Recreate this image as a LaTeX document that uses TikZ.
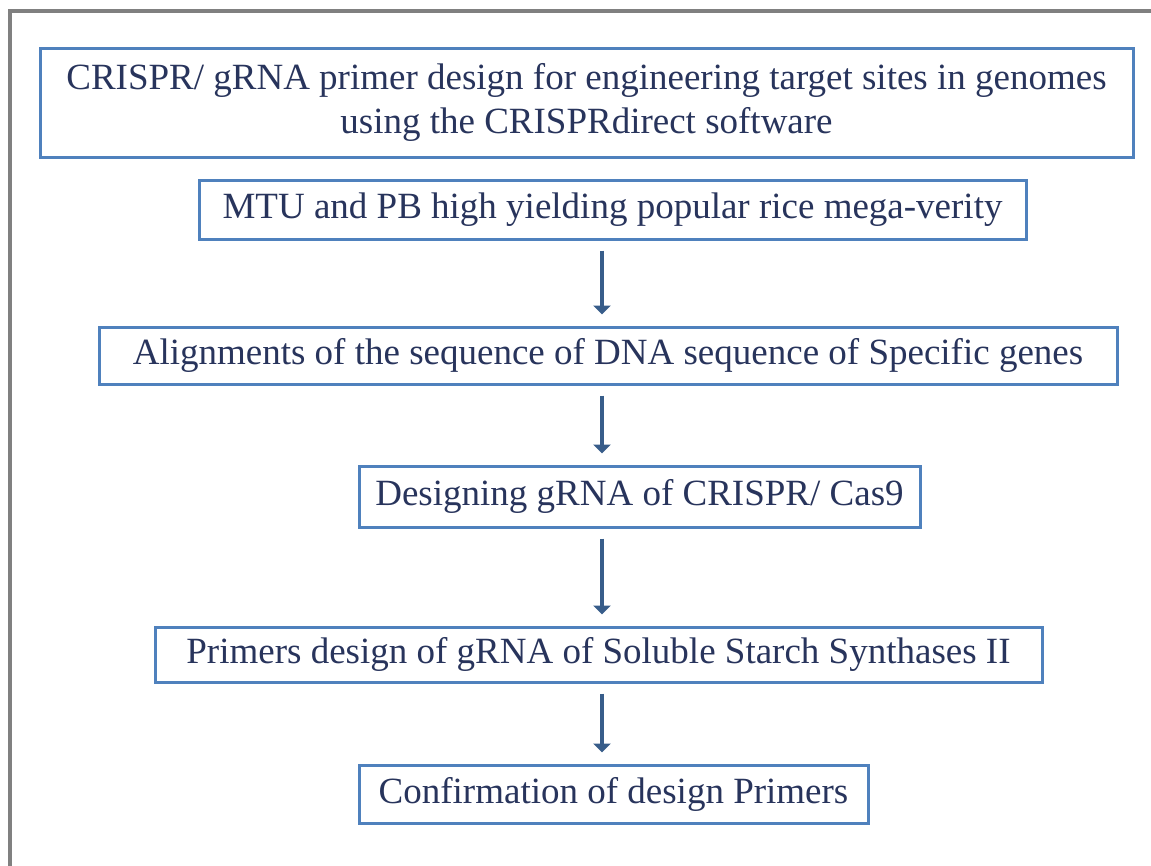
\documentclass[tikz,border=0pt]{standalone}
\usepackage{fontspec}
\setmainfont{Liberation Serif}
\usetikzlibrary{arrows.meta}
\definecolor{boxblue}{RGB}{79,129,189}
\definecolor{arrowblue}{RGB}{56,93,138}
\definecolor{inkblue}{RGB}{40,52,92}
\definecolor{framegray}{RGB}{128,128,128}
\begin{document}
\begin{tikzpicture}[x=1pt,y=-1pt,
  stagebox/.style={draw=boxblue,line width=3pt,fill=white,rectangle,inner sep=0pt,
    text=inkblue,align=center,font=\fontsize{37}{44}\selectfont},
  flowarrow/.style={draw=arrowblue,line width=4pt,
    -{Triangle[width=17pt,length=9pt]},shorten <=10pt,shorten >=11pt}]
  \useasboundingbox (0,0) rectangle (1151,865);
  % outer frame, open on the right and bottom
  \draw[framegray,line width=4pt] (10,880) -- (10,11) -- (1165,11);

  \node[stagebox,minimum width=1093pt,minimum height=109pt] (b1) at (586.5,102.5)
    {CRISPR/ gRNA primer design for engineering target sites in genomes\\using the CRISPRdirect software};
  \node[stagebox,minimum width=827pt,minimum height=59pt] (b2) at (612.5,209.5)
    {MTU and PB high yielding popular rice mega-verity};
  \node[stagebox,minimum width=1018pt,minimum height=57pt] (b3) at (608,355.5)
    {Alignments of the sequence of DNA sequence of Specific genes};
  \node[stagebox,minimum width=561pt,minimum height=61pt] (b4) at (639.5,496.5)
    {Designing gRNA of CRISPR/ Cas9};
  \node[stagebox,minimum width=887pt,minimum height=55pt] (b5) at (598.5,654.5)
    {Primers design of gRNA of Soluble Starch Synthases II};
  \node[stagebox,minimum width=509pt,minimum height=58pt] (b6) at (613.5,794)
    {Confirmation of design Primers};

  \draw[flowarrow] (602,0 |- b2.south) -- (602,0 |- b3.north);
  \draw[flowarrow] (602,0 |- b3.south) -- (602,0 |- b4.north);
  \draw[flowarrow] (602,0 |- b4.south) -- (602,0 |- b5.north);
  \draw[flowarrow] (602,0 |- b5.south) -- (602,0 |- b6.north);
\end{tikzpicture}
\end{document}
